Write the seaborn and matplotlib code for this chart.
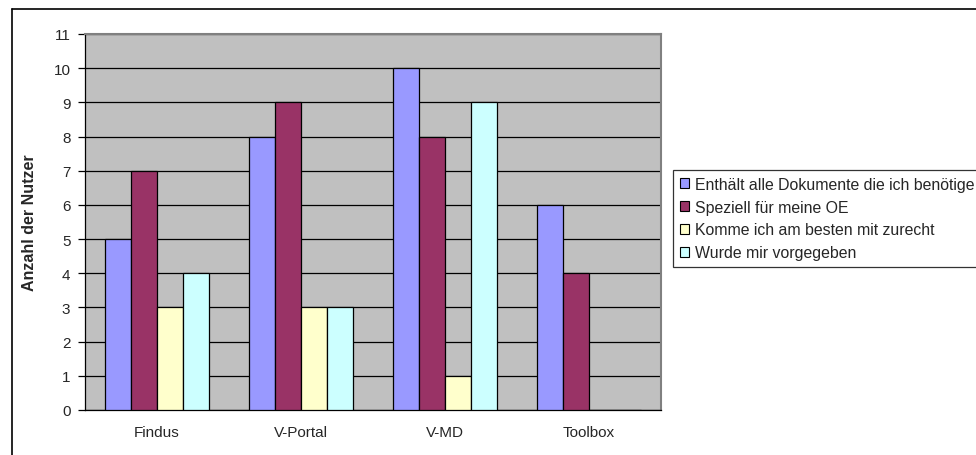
import matplotlib
matplotlib.use("Agg")
import matplotlib.pyplot as plt
from matplotlib.lines import Line2D
from matplotlib.patches import Patch
import seaborn as sns
import pandas as pd

categories = ["Findus", "V-Portal", "V-MD", "Toolbox"]
series = [
    "Enthält alle Dokumente die ich benötige",
    "Speziell für meine OE",
    "Komme ich am besten mit zurecht",
    "Wurde mir vorgegeben",
]
values_dokumente = [5, 8, 10, 6]
values_speziell = [7, 9, 8, 4]
values_zurecht = [3, 3, 1, 0]
values_vorgegeben = [4, 3, 9, 0]
colors = ["#9999FF", "#993366", "#FFFFCC", "#CCFFFF"]

rows = []
for name, vals in zip(series, [values_dokumente, values_speziell, values_zurecht, values_vorgegeben]):
    for cat, v in zip(categories, vals):
        rows.append({"Kategorie": cat, "Grund": name, "Anzahl": v})
df = pd.DataFrame(rows)

sns.set_theme(style="white")
plt.rcParams["font.family"] = ["Liberation Sans", "DejaVu Sans"]
FS = 11

W, H = 976, 456
fig = plt.figure(figsize=(W / 100, H / 100), dpi=100)
ax = fig.add_axes([85 / W, 1 - 411 / H, 576 / W, 376 / H])
ax.set_facecolor("#C0C0C0")

sns.barplot(data=df, x="Kategorie", y="Anzahl", hue="Grund", order=categories,
            hue_order=series, palette=colors, width=0.72, gap=0,
            edgecolor="black", linewidth=0.9, saturation=1, legend=False, ax=ax, zorder=3)

ax.set_ylim(0, 11)
ax.set_xlim(-0.5, 3.5)
ax.set_yticks(range(0, 12))
ax.yaxis.grid(True, color="black", linewidth=0.9, zorder=0)
ax.set_axisbelow(True)

ax.set_xticks(range(len(categories)))
ax.set_xticklabels(categories, fontsize=FS)
ax.set_xticks([-0.5, 0.5, 1.5, 2.5], minor=True)
ax.tick_params(axis="x", which="major", length=0, pad=11)
ax.tick_params(axis="x", which="minor", length=5, width=0.9, color="black", direction="out")
ax.tick_params(axis="y", length=5, width=0.9, color="black", direction="out",
               labelsize=FS, pad=5.5, left=True)
ax.set_xlabel("")
ax.set_ylabel("Anzahl der Nutzer", fontsize=11.5, fontweight="bold", labelpad=12)

for side in ["top", "right"]:
    ax.spines[side].set_color("#808080")
    ax.spines[side].set_linewidth(1.5)
for side in ["left", "bottom"]:
    ax.spines[side].set_color("black")
    ax.spines[side].set_linewidth(0.9)

handles = [Patch(facecolor=c, edgecolor="black", linewidth=0.8) for c in colors]
leg = fig.legend(handles, series, loc="upper left",
                 bbox_to_anchor=(673 / W, 1 - 171 / H), fontsize=11.4,
                 frameon=True, fancybox=False, handlelength=0.6, handleheight=0.6,
                 handletextpad=0.4, labelspacing=0.5, borderpad=0.42, borderaxespad=0)
leg.get_frame().set_edgecolor("black")
leg.get_frame().set_linewidth(0.9)

# outer frame lines (left and top)
fig.add_artist(Line2D([11.5 / W, 11.5 / W], [0, 1 - 9.5 / H], transform=fig.transFigure,
                      color="black", linewidth=1.2))
fig.add_artist(Line2D([11.5 / W, 1], [1 - 9.5 / H, 1 - 9.5 / H], transform=fig.transFigure,
                      color="black", linewidth=1.2))

fig.savefig("out.png", dpi=100)
